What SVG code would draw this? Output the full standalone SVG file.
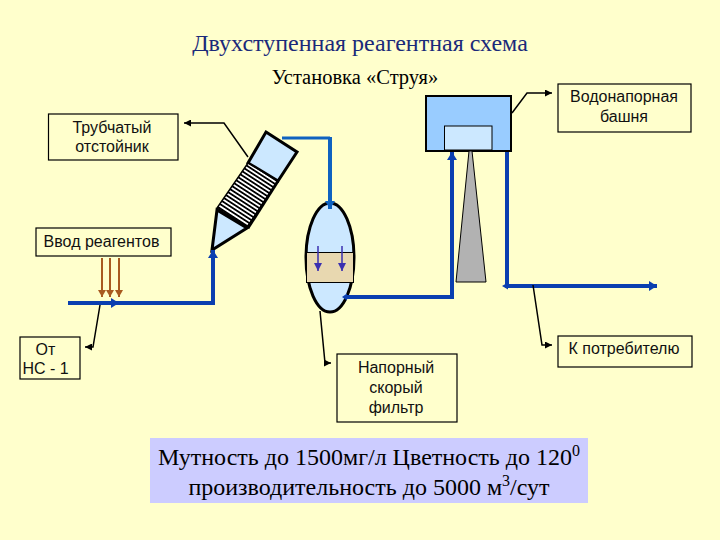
<svg xmlns="http://www.w3.org/2000/svg" width="720" height="540" viewBox="0 0 720 540">
<defs>
<marker id="b" markerUnits="userSpaceOnUse" markerWidth="10" markerHeight="10" refX="8" refY="5" orient="auto"><path d="M0 0L8 5L0 10Z" fill="#0a3fb0"/></marker>
<marker id="c" markerUnits="userSpaceOnUse" markerWidth="10" markerHeight="10" refX="8" refY="5" orient="auto"><path d="M0 0L8 5L0 10Z" fill="#0f62c0"/></marker>
<marker id="k" markerUnits="userSpaceOnUse" markerWidth="8" markerHeight="7" refX="7" refY="3.500" orient="auto"><path d="M0 0L7 3.500L0 7Z" fill="#000"/></marker>
<marker id="o" markerUnits="userSpaceOnUse" markerWidth="8" markerHeight="8" refX="7" refY="4" orient="auto"><path d="M0 0L7 4L0 8Z" fill="#a85a20"/></marker>
<marker id="v" markerUnits="userSpaceOnUse" markerWidth="9" markerHeight="9" refX="8" refY="4" orient="auto"><path d="M0 0L8 4L0 8Z" fill="#3a2fb0"/></marker>
<pattern id="h" patternUnits="userSpaceOnUse" width="3.600" height="3.600" patternTransform="rotate(33)"><rect width="3.600" height="3.600" fill="#fff"/><rect width="3.600" height="1.800" fill="#000"/></pattern>
</defs>
<style>
.bg{fill:#ffffcc}
.box{fill:#ffffcc;stroke:#000;stroke-width:1.200}
.t{font-family:"Liberation Sans",Arial,sans-serif;font-size:16px;fill:#111;text-anchor:middle}
.s{font-family:"Liberation Serif","Times New Roman",serif;fill:#000;text-anchor:middle}
.pipe{fill:none;stroke:#0a3fb0;stroke-width:4}
.lead{fill:none;stroke:#000;stroke-width:1.500}
.reag{fill:none;stroke:#a85a20;stroke-width:2}
.drop{fill:none;stroke:#3a2fb0;stroke-width:1.500}
.vessel{stroke:#000;stroke-width:3}
</style>
<rect class="bg" width="720" height="540"/>
<text class="s" x="360" y="51" font-size="24" style="fill:#1a2a7a">Двухступенная реагентная схема</text>
<text class="s" x="355" y="84" font-size="20.500">Установка «Струя»</text>

<g id="settler">
<path class="vessel" fill="#cce8ff" d="M266 132L297 152L278 181L248 163Z"/>
<path fill="url(#h)" stroke="#000" stroke-width="1.500" d="M248 163L278 181L247 227L217 208Z"/>
<path d="M278 181L248 228" stroke="#000" stroke-width="3" fill="none"/>
<path class="vessel" fill="#cce8ff" d="M217 210L247 228L212 250Z"/>
</g>

<g id="filter">
<ellipse cx="330" cy="257.500" rx="24" ry="54.500" fill="#cce8ff" stroke="#000" stroke-width="3"/>
<rect x="306.500" y="252.500" width="47" height="30" fill="#e8d8b0" stroke="#000" stroke-width="1"/>
<path class="drop" d="M318 246V271" marker-end="url(#v)"/>
<path class="drop" d="M342 246V271" marker-end="url(#v)"/>
</g>

<g id="tower">
<rect x="426" y="96" width="85" height="55" fill="#99ccff" stroke="#000" stroke-width="2"/>
<rect x="444.500" y="126" width="47.500" height="24" fill="#cce8ff" stroke="#000" stroke-width="1"/>
<path d="M469 151H472L486 282H456Z" fill="#b2b2b2" stroke="#000" stroke-width="1"/>
</g>

<g id="connectors">
<path class="pipe" d="M68 303H213V250" marker-end="url(#b)"/>
<path fill="none" stroke="#0f62c0" stroke-width="3" d="M282 138H330"/>
<path fill="none" stroke="#0f62c0" stroke-width="4" d="M330 137V209" marker-end="url(#c)"/>
<path class="pipe" d="M345 297H452V152" marker-end="url(#b)"/>
<path class="pipe" d="M507 152V286H657" marker-end="url(#b)"/>
<path d="M347 293.500L342 297L347 300.500Z" fill="#0a3fb0"/>
<path d="M508 282.500L502 286L508 289.500Z" fill="#0a3fb0"/>
<path class="reag" d="M102 258V297" marker-end="url(#o)"/>
<path class="reag" d="M110 258V297" stroke-width="1.500" marker-end="url(#o)"/>
<path class="reag" d="M119 258V297" marker-end="url(#o)"/>
<path d="M112 303H119" stroke="#0a3fb0" stroke-width="4" marker-end="url(#b)" fill="none"/>
<path class="lead" d="M100 305L93 347H85" marker-end="url(#k)"/>
<path class="lead" d="M248 157L224 123H184" marker-end="url(#k)"/>
<path class="lead" d="M512 113L527 93H552" marker-end="url(#k)"/>
<path class="lead" d="M320 311L325 363H331" marker-end="url(#k)"/>
<path class="lead" d="M533 285L542 345H552" marker-end="url(#k)"/>
</g>

<g id="label-settler"><rect class="box" x="48.500" y="114" width="129.500" height="46"/><text class="t" x="112" y="133">Трубчатый</text><text class="t" x="112" y="152">отстойник</text></g>
<g id="label-tower"><rect class="box" x="558" y="84" width="133" height="48"/><text class="t" x="624" y="102">Водонапорная</text><text class="t" x="624" y="122">башня</text></g>
<g id="label-reagents"><rect class="box" x="36" y="228" width="135" height="28"/><text class="t" x="101.500" y="247">Ввод реагентов</text></g>
<g id="label-source"><rect class="box" x="20" y="337" width="60" height="42"/><text class="t" x="45.500" y="355">От</text><text class="t" x="45.500" y="374">НС - 1</text></g>
<g id="label-filter"><rect class="box" x="337" y="354" width="120" height="68"/><text class="t" x="396" y="373">Напорный</text><text class="t" x="396" y="393">скорый</text><text class="t" x="396" y="413">фильтр</text></g>
<g id="label-consumer"><rect class="box" x="558" y="336" width="134" height="31"/><text class="t" x="624" y="354">К потребителю</text></g>

<g id="summary">
<rect x="150" y="438" width="438" height="65" fill="#ccccff"/>
<text class="s" x="369" y="465" font-size="24">Мутность до 1500мг/л Цветность до 120<tspan font-size="16" dy="-9">0</tspan></text>
<text class="s" x="369" y="495" font-size="24">производительность до 5000 м<tspan font-size="16" dy="-9">3</tspan><tspan dy="9">/сут</tspan></text>
</g>
</svg>
